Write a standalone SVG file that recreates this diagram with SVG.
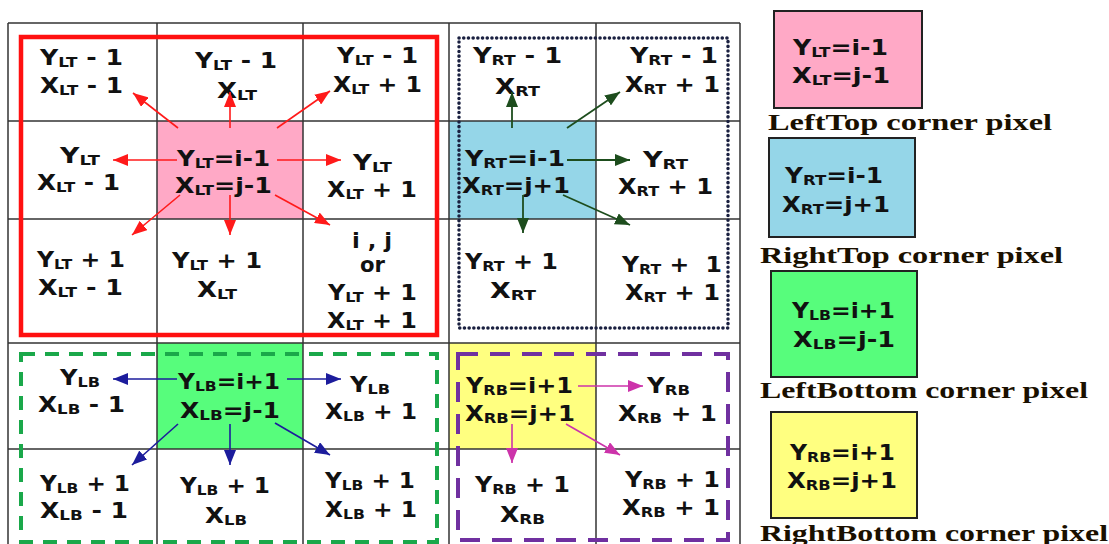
<svg xmlns="http://www.w3.org/2000/svg" width="1109" height="544" viewBox="0 0 1109 544">
<style>
.t{font-family:"DejaVu Sans","Liberation Sans",sans-serif;font-weight:bold;font-size:21px;fill:#111}
.s{font-size:14px}
.lbl{font-family:"Liberation Serif","Times New Roman",serif;font-weight:bold;font-size:24px;fill:#1a1000}
.grid{stroke:#333;stroke-width:1.5;fill:none}
.lg{stroke:#222;stroke-width:2}
</style>
<defs>
<marker id="ar" markerUnits="userSpaceOnUse" markerWidth="15" markerHeight="12" refX="15" refY="6" orient="auto"><path d="M0,0 L15,6 L0,12 z" fill="#ff1a1a"/></marker>
<marker id="ag" markerUnits="userSpaceOnUse" markerWidth="15" markerHeight="12" refX="15" refY="6" orient="auto"><path d="M0,0 L15,6 L0,12 z" fill="#1d4d1d"/></marker>
<marker id="an" markerUnits="userSpaceOnUse" markerWidth="15" markerHeight="12" refX="15" refY="6" orient="auto"><path d="M0,0 L15,6 L0,12 z" fill="#1c1c9c"/></marker>
<marker id="am" markerUnits="userSpaceOnUse" markerWidth="15" markerHeight="12" refX="15" refY="6" orient="auto"><path d="M0,0 L15,6 L0,12 z" fill="#cc33aa"/></marker>
</defs>
<rect width="1109" height="544" fill="#fff"/>

<!-- coloured cells -->
<rect x="157" y="121" width="146" height="98" fill="#ffa9c6"/>
<rect x="449" y="121" width="147" height="98" fill="#95d6e8"/>
<rect x="157" y="343" width="146" height="106" fill="#57fd7c"/>
<rect x="449" y="343" width="147" height="106" fill="#ffff80"/>

<!-- grid -->
<g id="grid" class="grid">
<line x1="8" y1="23" x2="8" y2="544"/>
<line x1="157" y1="23" x2="157" y2="544"/>
<line x1="303" y1="23" x2="303" y2="544"/>
<line x1="449" y1="23" x2="449" y2="544"/>
<line x1="596" y1="23" x2="596" y2="544"/>
<line x1="740" y1="23" x2="740" y2="544"/>
<line x1="8" y1="23" x2="740" y2="23"/>
<line x1="8" y1="121" x2="740" y2="121"/>
<line x1="8" y1="219" x2="740" y2="219"/>
<line x1="8" y1="343" x2="740" y2="343"/>
<line x1="8" y1="449" x2="740" y2="449"/>
</g>

<!-- region frames -->
<rect id="frame-lt" x="21" y="37" width="416" height="298" fill="none" stroke="#ff1010" stroke-width="4.5"/>
<rect id="frame-rt" x="459" y="38" width="269" height="290" fill="none" stroke="#1a2040" stroke-width="3.5" stroke-dasharray="0.1 4.6" stroke-linecap="round"/>
<rect id="frame-lb" x="21" y="354" width="416" height="188" fill="none" stroke="#1aa84a" stroke-width="4" stroke-dasharray="14 10"/>
<rect id="frame-rb" x="458" y="354" width="270" height="186" fill="none" stroke="#7030a0" stroke-width="4" stroke-dasharray="20 12"/>

<!-- LT block -->
<g id="lt-c00"><text class="t" x="40" y="65" textLength="83" lengthAdjust="spacingAndGlyphs">Y<tspan class="s" dy="1.5">LT</tspan><tspan dy="-1.5"> - 1</tspan></text><text class="t" x="40" y="93" textLength="83" lengthAdjust="spacingAndGlyphs">X<tspan class="s" dy="1.5">LT</tspan><tspan dy="-1.5"> - 1</tspan></text></g>
<g id="lt-c01"><text class="t" x="195" y="68" textLength="82" lengthAdjust="spacingAndGlyphs">Y<tspan class="s" dy="1.5">LT</tspan><tspan dy="-1.5"> - 1</tspan></text><text class="t" x="217" y="98" textLength="40" lengthAdjust="spacingAndGlyphs">X<tspan class="s" dy="1.5">LT</tspan></text></g>
<g id="lt-c02"><text class="t" x="337" y="63" textLength="81" lengthAdjust="spacingAndGlyphs">Y<tspan class="s" dy="1.5">LT</tspan><tspan dy="-1.5"> - 1</tspan></text><text class="t" x="333" y="92" textLength="89" lengthAdjust="spacingAndGlyphs">X<tspan class="s" dy="1.5">LT</tspan><tspan dy="-1.5"> + 1</tspan></text></g>
<g id="lt-c10"><text class="t" x="60" y="163" textLength="40" lengthAdjust="spacingAndGlyphs">Y<tspan class="s" dy="1.5">LT</tspan></text><text class="t" x="37" y="190" textLength="83" lengthAdjust="spacingAndGlyphs">X<tspan class="s" dy="1.5">LT</tspan><tspan dy="-1.5"> - 1</tspan></text></g>
<g id="lt-c11"><text class="t" x="177" y="166" textLength="93" lengthAdjust="spacingAndGlyphs">Y<tspan class="s" dy="1.5">LT</tspan><tspan dy="-1.5">=i-1</tspan></text><text class="t" x="175" y="193" textLength="97" lengthAdjust="spacingAndGlyphs">X<tspan class="s" dy="1.5">LT</tspan><tspan dy="-1.5">=j-1</tspan></text></g>
<g id="lt-c12"><text class="t" x="353" y="170" textLength="39" lengthAdjust="spacingAndGlyphs">Y<tspan class="s" dy="1.5">LT</tspan></text><text class="t" x="327" y="197" textLength="90" lengthAdjust="spacingAndGlyphs">X<tspan class="s" dy="1.5">LT</tspan><tspan dy="-1.5"> + 1</tspan></text></g>
<g id="lt-c20"><text class="t" x="37" y="267" textLength="88" lengthAdjust="spacingAndGlyphs">Y<tspan class="s" dy="1.5">LT</tspan><tspan dy="-1.5"> + 1</tspan></text><text class="t" x="38" y="295" textLength="85" lengthAdjust="spacingAndGlyphs">X<tspan class="s" dy="1.5">LT</tspan><tspan dy="-1.5"> - 1</tspan></text></g>
<g id="lt-c21"><text class="t" x="172" y="268" textLength="90" lengthAdjust="spacingAndGlyphs">Y<tspan class="s" dy="1.5">LT</tspan><tspan dy="-1.5"> + 1</tspan></text><text class="t" x="197" y="297" textLength="40" lengthAdjust="spacingAndGlyphs">X<tspan class="s" dy="1.5">LT</tspan></text></g>
<g id="lt-c22"><text class="t" x="352" y="248" textLength="40" lengthAdjust="spacingAndGlyphs">i , j</text><text class="t" x="360" y="272" textLength="25" lengthAdjust="spacingAndGlyphs">or</text><text class="t" x="328" y="300" textLength="89" lengthAdjust="spacingAndGlyphs">Y<tspan class="s" dy="1.5">LT</tspan><tspan dy="-1.5"> + 1</tspan></text><text class="t" x="327" y="328" textLength="90" lengthAdjust="spacingAndGlyphs">X<tspan class="s" dy="1.5">LT</tspan><tspan dy="-1.5"> + 1</tspan></text></g>

<!-- RT block -->
<g id="rt-c03"><text class="t" x="473" y="63" textLength="89" lengthAdjust="spacingAndGlyphs">Y<tspan class="s" dy="1.5">RT</tspan><tspan dy="-1.5"> - 1</tspan></text><text class="t" x="495" y="94" textLength="45" lengthAdjust="spacingAndGlyphs">X<tspan class="s" dy="1.5">RT</tspan></text></g>
<g id="rt-c04"><text class="t" x="630" y="63" textLength="88" lengthAdjust="spacingAndGlyphs">Y<tspan class="s" dy="1.5">RT</tspan><tspan dy="-1.5"> - 1</tspan></text><text class="t" x="625" y="92" textLength="95" lengthAdjust="spacingAndGlyphs">X<tspan class="s" dy="1.5">RT</tspan><tspan dy="-1.5"> + 1</tspan></text></g>
<g id="rt-c13"><text class="t" x="465" y="166" textLength="100" lengthAdjust="spacingAndGlyphs">Y<tspan class="s" dy="1.5">RT</tspan><tspan dy="-1.5">=i-1</tspan></text><text class="t" x="462" y="193" textLength="108" lengthAdjust="spacingAndGlyphs">X<tspan class="s" dy="1.5">RT</tspan><tspan dy="-1.5">=j+1</tspan></text></g>
<g id="rt-c14"><text class="t" x="643" y="167" textLength="45" lengthAdjust="spacingAndGlyphs">Y<tspan class="s" dy="1.5">RT</tspan></text><text class="t" x="618" y="194" textLength="95" lengthAdjust="spacingAndGlyphs">X<tspan class="s" dy="1.5">RT</tspan><tspan dy="-1.5"> + 1</tspan></text></g>
<g id="rt-c23"><text class="t" x="465" y="269" textLength="93" lengthAdjust="spacingAndGlyphs">Y<tspan class="s" dy="1.5">RT</tspan><tspan dy="-1.5"> + 1</tspan></text><text class="t" x="490" y="298" textLength="46" lengthAdjust="spacingAndGlyphs">X<tspan class="s" dy="1.5">RT</tspan></text></g>
<g id="rt-c24"><text class="t" x="622" y="272" textLength="100" lengthAdjust="spacingAndGlyphs" xml:space="preserve">Y<tspan class="s" dy="1.5">RT</tspan><tspan dy="-1.5"> +  1</tspan></text><text class="t" x="625" y="300" textLength="95" lengthAdjust="spacingAndGlyphs">X<tspan class="s" dy="1.5">RT</tspan><tspan dy="-1.5"> + 1</tspan></text></g>

<!-- LB block -->
<g id="lb-c30"><text class="t" x="60" y="385" textLength="40" lengthAdjust="spacingAndGlyphs">Y<tspan class="s" dy="1.5">LB</tspan></text><text class="t" x="38" y="412" textLength="87" lengthAdjust="spacingAndGlyphs">X<tspan class="s" dy="1.5">LB</tspan><tspan dy="-1.5"> - 1</tspan></text></g>
<g id="lb-c31"><text class="t" x="178" y="389" textLength="102" lengthAdjust="spacingAndGlyphs">Y<tspan class="s" dy="1.5">LB</tspan><tspan dy="-1.5">=i+1</tspan></text><text class="t" x="180" y="418" textLength="100" lengthAdjust="spacingAndGlyphs">X<tspan class="s" dy="1.5">LB</tspan><tspan dy="-1.5">=j-1</tspan></text></g>
<g id="lb-c32"><text class="t" x="350" y="392" textLength="40" lengthAdjust="spacingAndGlyphs">Y<tspan class="s" dy="1.5">LB</tspan></text><text class="t" x="325" y="419" textLength="92" lengthAdjust="spacingAndGlyphs">X<tspan class="s" dy="1.5">LB</tspan><tspan dy="-1.5"> + 1</tspan></text></g>
<g id="lb-c40"><text class="t" x="40" y="491" textLength="90" lengthAdjust="spacingAndGlyphs">Y<tspan class="s" dy="1.5">LB</tspan><tspan dy="-1.5"> + 1</tspan></text><text class="t" x="40" y="518" textLength="88" lengthAdjust="spacingAndGlyphs">X<tspan class="s" dy="1.5">LB</tspan><tspan dy="-1.5"> - 1</tspan></text></g>
<g id="lb-c41"><text class="t" x="180" y="493" textLength="90" lengthAdjust="spacingAndGlyphs">Y<tspan class="s" dy="1.5">LB</tspan><tspan dy="-1.5"> + 1</tspan></text><text class="t" x="205" y="523" textLength="42" lengthAdjust="spacingAndGlyphs">X<tspan class="s" dy="1.5">LB</tspan></text></g>
<g id="lb-c42"><text class="t" x="325" y="488" textLength="90" lengthAdjust="spacingAndGlyphs">Y<tspan class="s" dy="1.5">LB</tspan><tspan dy="-1.5"> + 1</tspan></text><text class="t" x="325" y="517" textLength="92" lengthAdjust="spacingAndGlyphs">X<tspan class="s" dy="1.5">LB</tspan><tspan dy="-1.5"> + 1</tspan></text></g>

<!-- RB block -->
<g id="rb-c33"><text class="t" x="466" y="393" textLength="107" lengthAdjust="spacingAndGlyphs">Y<tspan class="s" dy="1.5">RB</tspan><tspan dy="-1.5">=i+1</tspan></text><text class="t" x="465" y="421" textLength="110" lengthAdjust="spacingAndGlyphs">X<tspan class="s" dy="1.5">RB</tspan><tspan dy="-1.5">=j+1</tspan></text></g>
<g id="rb-c34"><text class="t" x="647" y="393" textLength="43" lengthAdjust="spacingAndGlyphs">Y<tspan class="s" dy="1.5">RB</tspan></text><text class="t" x="618" y="421" textLength="99" lengthAdjust="spacingAndGlyphs">X<tspan class="s" dy="1.5">RB</tspan><tspan dy="-1.5"> + 1</tspan></text></g>
<g id="rb-c43"><text class="t" x="475" y="492" textLength="95" lengthAdjust="spacingAndGlyphs">Y<tspan class="s" dy="1.5">RB</tspan><tspan dy="-1.5"> + 1</tspan></text><text class="t" x="500" y="522" textLength="45" lengthAdjust="spacingAndGlyphs">X<tspan class="s" dy="1.5">RB</tspan></text></g>
<g id="rb-c44"><text class="t" x="625" y="487" textLength="95" lengthAdjust="spacingAndGlyphs">Y<tspan class="s" dy="1.5">RB</tspan><tspan dy="-1.5"> + 1</tspan></text><text class="t" x="622" y="515" textLength="98" lengthAdjust="spacingAndGlyphs">X<tspan class="s" dy="1.5">RB</tspan><tspan dy="-1.5"> + 1</tspan></text></g>

<!-- connectors -->
<g id="connectors" fill="none">
<g stroke="#ff1a1a" stroke-width="1.6" marker-end="url(#ar)">
<line x1="178" y1="128" x2="133" y2="93"/>
<line x1="230" y1="128" x2="230" y2="92"/>
<line x1="277" y1="128" x2="330" y2="91"/>
<line x1="177" y1="160" x2="113" y2="160"/>
<line x1="277" y1="160" x2="341" y2="160"/>
<line x1="180" y1="195" x2="132" y2="235"/>
<line x1="230" y1="195" x2="230" y2="235"/>
<line x1="275" y1="195" x2="330" y2="225"/>
</g>
<g stroke="#1d4d1d" stroke-width="1.8" marker-end="url(#ag)">
<line x1="512" y1="128" x2="512" y2="92"/>
<line x1="567" y1="128" x2="620" y2="92"/>
<line x1="567" y1="160" x2="630" y2="160"/>
<line x1="523" y1="195" x2="523" y2="233"/>
<line x1="563" y1="195" x2="630" y2="225"/>
</g>
<g stroke="#1c1c9c" stroke-width="1.6" marker-end="url(#an)">
<line x1="177" y1="379" x2="113" y2="379"/>
<line x1="287" y1="379" x2="341" y2="379"/>
<line x1="178" y1="424" x2="132" y2="465"/>
<line x1="230" y1="424" x2="230" y2="465"/>
<line x1="275" y1="423" x2="330" y2="455"/>
</g>
<g stroke="#cc33aa" stroke-width="1.6" marker-end="url(#am)">
<line x1="578" y1="386" x2="643" y2="386"/>
<line x1="512" y1="424" x2="512" y2="463"/>
<line x1="566" y1="424" x2="620" y2="455"/>
</g>
</g>

<!-- legend -->
<g id="legend-lt"><rect class="lg" x="774" y="11" width="148" height="97" fill="#ffa9c6"/><text class="t" x="793" y="55" textLength="95" lengthAdjust="spacingAndGlyphs">Y<tspan class="s" dy="1.5">LT</tspan><tspan dy="-1.5">=i-1</tspan></text><text class="t" x="792" y="83" textLength="98" lengthAdjust="spacingAndGlyphs">X<tspan class="s" dy="1.5">LT</tspan><tspan dy="-1.5">=j-1</tspan></text><text class="lbl" x="768" y="130" textLength="284" lengthAdjust="spacingAndGlyphs">LeftTop corner pixel</text></g>
<g id="legend-rt"><rect class="lg" x="769" y="138" width="146" height="99" fill="#95d6e8"/><text class="t" x="785" y="183" textLength="98" lengthAdjust="spacingAndGlyphs">Y<tspan class="s" dy="1.5">RT</tspan><tspan dy="-1.5">=i-1</tspan></text><text class="t" x="782" y="212" textLength="108" lengthAdjust="spacingAndGlyphs">X<tspan class="s" dy="1.5">RT</tspan><tspan dy="-1.5">=j+1</tspan></text><text class="lbl" x="760" y="263" textLength="303" lengthAdjust="spacingAndGlyphs">RightTop corner pixel</text></g>
<g id="legend-lb"><rect class="lg" x="771" y="271" width="146" height="106" fill="#57fd7c"/><text class="t" x="792" y="318" textLength="103" lengthAdjust="spacingAndGlyphs">Y<tspan class="s" dy="1.5">LB</tspan><tspan dy="-1.5">=i+1</tspan></text><text class="t" x="793" y="347" textLength="102" lengthAdjust="spacingAndGlyphs">X<tspan class="s" dy="1.5">LB</tspan><tspan dy="-1.5">=j-1</tspan></text><text class="lbl" x="760" y="398" textLength="328" lengthAdjust="spacingAndGlyphs">LeftBottom corner pixel</text></g>
<g id="legend-rb"><rect class="lg" x="771" y="412" width="146" height="106" fill="#ffff80"/><text class="t" x="790" y="460" textLength="105" lengthAdjust="spacingAndGlyphs">Y<tspan class="s" dy="1.5">RB</tspan><tspan dy="-1.5">=i+1</tspan></text><text class="t" x="787" y="488" textLength="110" lengthAdjust="spacingAndGlyphs">X<tspan class="s" dy="1.5">RB</tspan><tspan dy="-1.5">=j+1</tspan></text><text class="lbl" x="760" y="541" textLength="348" lengthAdjust="spacingAndGlyphs">RightBottom corner pixel</text></g>
</svg>
